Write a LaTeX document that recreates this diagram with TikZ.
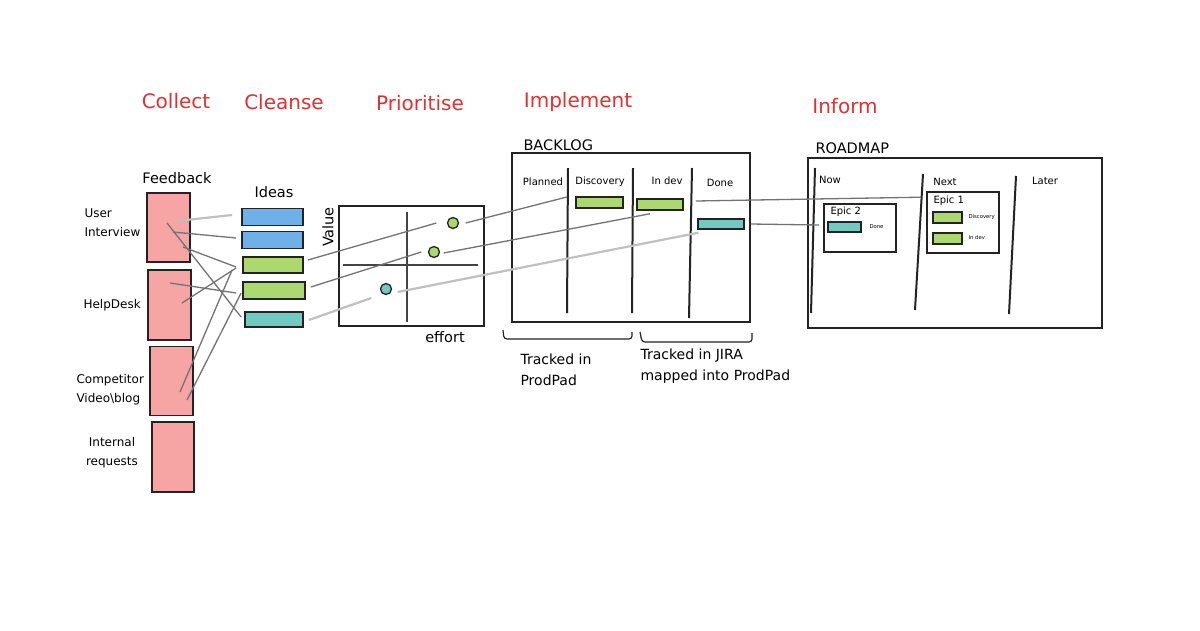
\documentclass[tikz,border=0pt]{standalone}
\usepackage{fontspec}
\setmainfont{DejaVu Sans}
\usetikzlibrary{calc}

\definecolor{hdred}{RGB}{224,49,49}
\definecolor{fbred}{RGB}{247,164,164}
\definecolor{ideablue}{RGB}{112,176,232}
\definecolor{ideagreen}{RGB}{172,216,112}
\definecolor{ideateal}{RGB}{112,202,192}
\definecolor{ink}{RGB}{35,35,35}
\definecolor{linkgray}{RGB}{115,115,115}
\definecolor{linklight}{RGB}{192,192,192}

\begin{document}
\begin{tikzpicture}[
        x=1pt, y=-1pt,
        head/.style={text=hdred, font=\fontsize{20}{24}\selectfont},
        title/.style={font=\fontsize{14.5}{17}\selectfont},
        src/.style={font=\fontsize{12}{19}\selectfont, align=left},
        col/.style={font=\fontsize{10}{12}\selectfont},
        tiny/.style={font=\fontsize{5.3}{6}\selectfont},
        track/.style={font=\fontsize{14}{21}\selectfont, align=left, anchor=west},
        fbbox/.style={draw=ink, fill=fbred, line width=1.7pt, inner sep=0pt,
                      minimum width=43pt, minimum height=70pt},
        idea/.style={draw=ink, line width=1.8pt, inner sep=0pt,
                     minimum width=61pt, minimum height=17pt},
        dot/.style={circle, draw=ink, line width=1.3pt, inner sep=0pt, minimum size=11pt},
        board/.style={draw=ink, line width=1.6pt, inner sep=0pt},
        card/.style={draw=ink, line width=1.5pt, inner sep=0pt,
                     minimum width=46pt, minimum height=11pt},
        epic/.style={draw=ink, line width=1.6pt, inner sep=0pt, minimum width=72pt},
        colline/.style={draw=ink, line width=2pt},
        axis/.style={draw=ink!85, line width=2pt},
        brace/.style={draw=ink, line width=1.2pt, rounded corners=3pt},
        link/.style={draw=linkgray, line width=1.3pt},
        linkl/.style={draw=linklight, line width=2.2pt}
      ]
        \fill[white] (0,0) rectangle (1200,630);
        \useasboundingbox (0,0) rectangle (1200,630);

        % stage headings
        \node[head] (hcol) at (176,101) {Collect};
        \node[head] (hcle) at (284,102) {Cleanse};
        \node[head] (hpri) at (420,103) {Prioritise};
        \node[head] (himp) at (578,102) {Implement};
        \node[head] (hinf) at (845,106) {Inform};

        % collect
        \node[title] (fbt) at (177,178) {Feedback};
        \node[fbbox, minimum height=69pt] (fb1) at (168.5,227.5) {};
        \node[fbbox] (fb2) at (169.5,305) {};
        \node[fbbox, minimum height=69pt] (fb3) at (171.5,381) {};
        \node[fbbox, minimum width=42pt] (fb4) at (173,457) {};
        \node[src, anchor=west] (lui) at (81,223) {User\\Interview};
        \node[src, anchor=west] (lhd) at (80,305) {HelpDesk};
        \node[src, anchor=west] (lcv) at (73,390) {Competitor\\Video\textbackslash blog};
        \node[src, align=center] (lir) at (112,453) {Internal\\requests};

        % cleanse
        \node[title] (idt) at (274,192) {Ideas};
        \node[idea, fill=ideablue] (id1) at (272.5,217) {};
        \node[idea, fill=ideablue] (id2) at (272.5,240) {};
        \node[idea, fill=ideagreen, minimum width=60pt, minimum height=16pt] (id3) at (273,265) {};
        \node[idea, fill=ideagreen, minimum width=62pt] (id4) at (274,290.5) {};
        \node[idea, fill=ideateal, minimum width=58pt, minimum height=15pt] (id5) at (274,319.5) {};

        \draw[linkl] ($(fb1.center)+(8.5,-6.5)$) -- ($(id1.west)+(-9,-2)$);
        \draw[link] ($(fb1.center)+(4.5,4.5)$) -- ($(id2.west)+(-5,-2)$);
        \draw[link] ($(fb1.center)+(-1.5,-4.5)$) -- ($(id5.west)+(-3,-2.5)$);
        \draw[link] ($(fb1.center)+(14.5,19.5)$) -- ($(id3.west)+(-6,2)$);
        \draw[link] ($(fb2.center)+(0.5,-22)$) -- ($(id4.west)+(-6,2.5)$);
        \draw[link] ($(fb2.center)+(12.5,-2)$) -- ($(id3.west)+(-6,3)$);
        \draw[link] ($(fb3.center)+(8.5,11)$) -- ($(id3.west)+(-10,5)$);
        \draw[link] ($(fb3.center)+(15.5,19)$) -- ($(id4.west)+(-1,2.5)$);

        % prioritise
        \node[board, minimum width=145pt, minimum height=120pt] (prio) at (411.5,266) {};
        \draw[axis] (407,212) -- (407,322);
        \draw[axis] (343,265) -- (478,265);
        \node[title, rotate=90] (val) at (328,227) {Value};
        \node[title] (eff) at (445,337) {effort};
        \node[dot, fill=ideagreen] (d1) at (453,223) {};
        \node[dot, fill=ideagreen] (d2) at (434,252) {};
        \node[dot, fill=ideateal] (d3) at (386,289) {};

        \draw[link] ($(id3.east)+(4,-5)$) -- ($(d1.west)+(-10.5,0)$);
        \draw[link] ($(id4.east)+(5,-3.5)$) -- ($(d2.west)+(-6.5,0)$);
        \draw[linkl] ($(id5.east)+(5,0.5)$) -- ($(d3.west)+(-8.5,9)$);

        % implement
        \node[title, anchor=west] (blt) at (520,145) {BACKLOG};
        \node[board, minimum width=238pt, minimum height=169pt] (bl) at (631,237.5) {};
        \draw[colline] (568,168) -- (567,313);
        \draw[colline] (633,168) -- (632,313);
        \draw[colline] (692,168) -- (689,318);
        \node[col] (lplan) at (543,182) {Planned};
        \node[col] (ldisc) at (600,182) {Discovery};
        \node[col] (ldev) at (667,181) {In dev};
        \node[col] (ldone) at (720,183) {Done};
        \node[card, fill=ideagreen, minimum width=47pt] (bdisc) at (599.5,202.5) {};
        \node[card, fill=ideagreen] (bdev) at (660,204.5) {};
        \node[card, fill=ideateal, minimum height=10pt] (bdone) at (721,224) {};

        \draw[link] ($(d1.east)+(6.5,0)$) -- ($(bdisc.west)+(-8.5,-5.5)$);
        \draw[link] ($(d2.east)+(3.5,1)$) -- ($(bdev.south)+(-10,3)$);
        \draw[linkl] ($(d3.east)+(5.5,3)$) -- ($(bdone.south west)+(1,3)$);

        \draw[brace] (503,330) -- (504,339) -- (632,339) -- (632,332);
        \draw[brace] (640,332) -- (642,342) -- (752,342) -- (752,333);
        \node[track] (tpp) at (517,370) {Tracked in\\ProdPad};
        \node[track] (tji) at (637,366) {Tracked in JIRA\\mapped into ProdPad};

        % inform
        \node[title, anchor=west] (rmt) at (812,148) {ROADMAP};
        \node[board, minimum width=294pt, minimum height=170pt] (rm) at (955,243) {};
        \draw[colline] (815,168) -- (811,313);
        \draw[colline] (923,174) -- (915,310);
        \draw[colline] (1016,176) -- (1009,314);
        \node[col] (lnow) at (830,180) {Now};
        \node[col] (lnext) at (945,182) {Next};
        \node[col] (llater) at (1045,181) {Later};

        \node[epic, minimum height=48pt] (ep2) at (860,228) {};
        \node[col, anchor=west] (ep2t) at (827,212) {Epic 2};
        \node[card, fill=ideateal, minimum width=33pt, minimum height=10pt] (e2done) at (844.5,227) {};
        \node[tiny, anchor=west] (e2l) at (866,227) {Done};

        \node[epic, minimum height=61pt] (ep1) at (963,222.5) {};
        \node[col, anchor=west] (ep1t) at (930,201) {Epic 1};
        \node[card, fill=ideagreen, minimum width=29pt] (e1disc) at (947.5,217.5) {};
        \node[tiny, anchor=west] (e1dl) at (965,217) {Discovery};
        \node[card, fill=ideagreen, minimum width=29pt] (e1dev) at (947.5,238.5) {};
        \node[tiny, anchor=west] (e1vl) at (965,238) {In dev};

        \draw[link] ($(bdev.east)+(12,-3.5)$) -- ($(ep1.north west)+(-5,6)$);
        \draw[link] ($(bdone.east)+(6,0)$) -- ($(ep2.west)+(-4,-3)$);
      \end{tikzpicture}
\end{document}
